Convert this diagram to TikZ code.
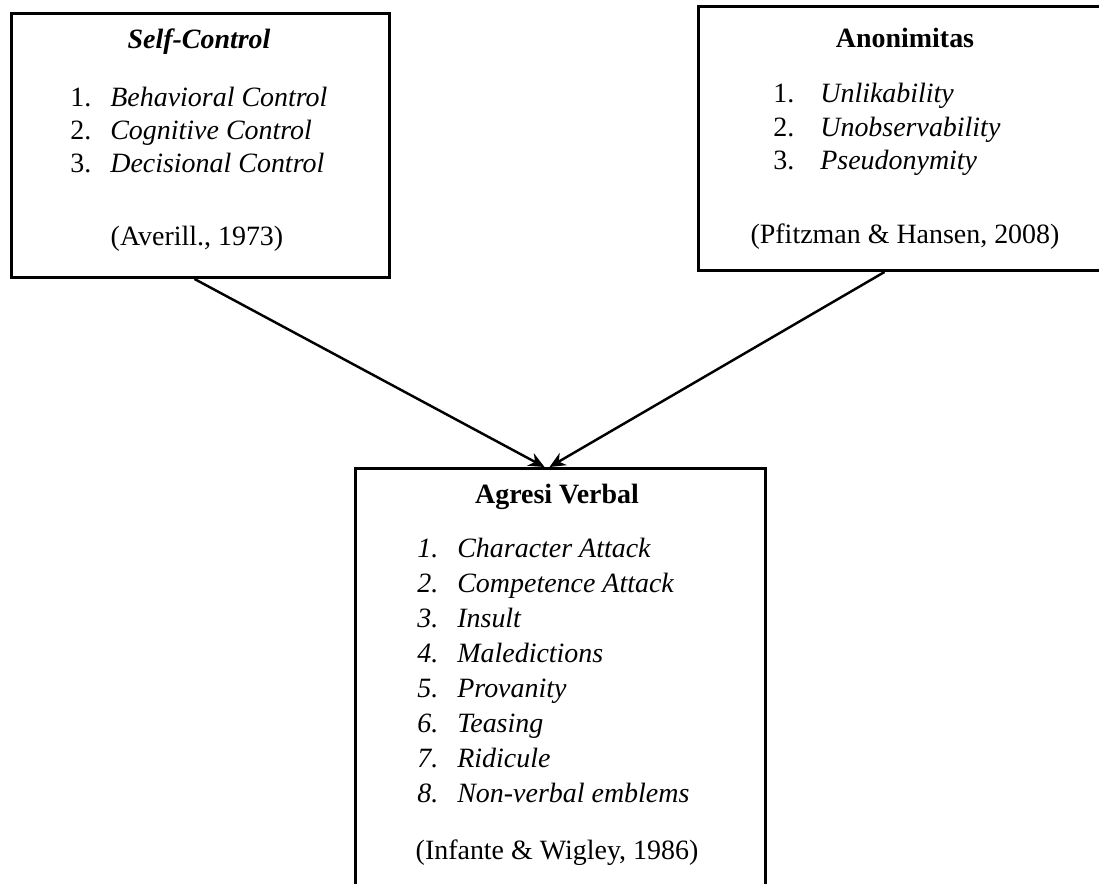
\documentclass[tikz,border=0pt]{standalone}
\usepackage{fontspec}
\setmainfont{Liberation Serif}
\usetikzlibrary{arrows.meta}

\tikzset{
	kotak/.style={draw, line width=1.7pt, anchor=north west, inner sep=0pt},
	teks/.style={inner sep=0pt, yshift=-0.11cm, text height=0.7em, text depth=0.25em, font=\fontsize{15.9}{19}\selectfont},
	panah/.style={line width=1.4pt, -{Stealth[length=9pt,width=8pt]}}
}

\begin{document}
\begin{tikzpicture}
			\useasboundingbox (0,0) rectangle (21.98,-17.68);
			\clip (0,0) rectangle (21.98,-17.68);
			
			%draw the three boxes
			\node[kotak, minimum width=7.56cm, minimum height=5.28cm] (selfbox) at (0.2,-0.24) {};
			\node[kotak, minimum width=8.32cm, minimum height=5.28cm] (anonbox) at (13.94,-0.1) {};
			\node[kotak, minimum width=8.2cm, minimum height=9.2cm] (agrebox) at (7.08,-9.34) {};
			
			%box titles
			\node[teks, font=\fontsize{15.9}{19}\selectfont\bfseries\itshape] (selftitle) at (3.98,-0.78) {Self-Control};
			\node[teks, font=\fontsize{15.9}{19}\selectfont\bfseries] (anontitle) at (18.1,-0.76) {Anonimitas};
			\node[teks, font=\fontsize{15.9}{19}\selectfont\bfseries] (agretitle) at (11.14,-9.88) {Agresi Verbal};
			
			%self-control items
			\foreach \n / \y / \t in {1/-1.94/Behavioral Control,2/-2.6/Cognitive Control,3/-3.26/Decisional Control}
			{
				\node[teks, anchor=west] (snum\n) at (1.4,\y) {\n.};
				\node[teks, anchor=west] (sitem\n) at (2.2,\y) {\textit{\t}};
			}
			
			%anonimitas items
			\foreach \n / \y / \t in {1/-1.86/Unlikability,2/-2.54/Unobservability,3/-3.2/Pseudonymity}
			{
				\node[teks, anchor=west] (anum\n) at (15.46,\y) {\n.};
				\node[teks, anchor=west] (aitem\n) at (16.4,\y) {\textit{\t}};
			}
			
			%agresi verbal items, numbers in italic too
			\foreach \n / \t in {1/Character Attack,2/Competence Attack,3/Insult,4/Maledictions,5/Provanity,6/Teasing,7/Ridicule,8/Non-verbal emblems}
			{
				\node[teks, anchor=west] (vnum\n) at (8.34,-10.96-0.7*\n+0.7) {\textit{\n.}};
				\node[teks, anchor=west] (vitem\n) at (9.14,-10.96-0.7*\n+0.7) {\textit{\t}};
			}
			
			%sources
			\node[teks] (selfsrc) at (3.94,-4.72) {(Averill., 1973)};
			\node[teks] (anonsrc) at (18.1,-4.68) {(Pfitzman \& Hansen, 2008)};
			\node[teks] (agresrc) at (11.14,-17.0) {(Infante \& Wigley, 1986)};
			
			%draw connectors
			\draw[panah] ([xshift=-0.12cm]selfbox.south) -- ([xshift=-0.32cm]agrebox.north);
			\draw[panah] ([xshift=-0.44cm]anonbox.south) -- ([xshift=-0.22cm]agrebox.north);
		\end{tikzpicture}
\end{document}
